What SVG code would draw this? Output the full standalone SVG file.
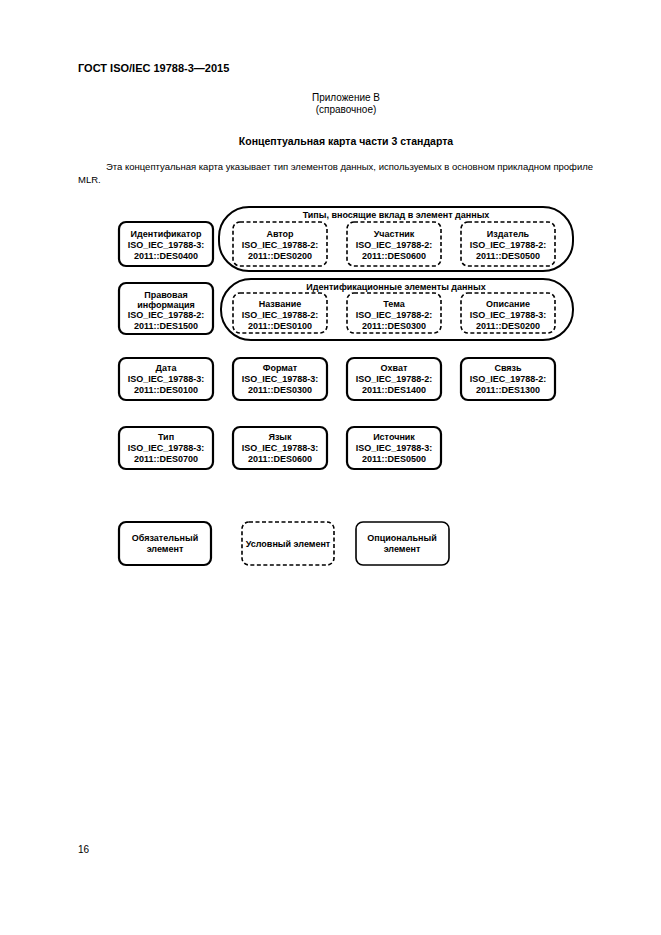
<svg xmlns="http://www.w3.org/2000/svg" width="661" height="935" viewBox="0 0 661 935">
<style>
text{font-family:"Liberation Sans",Arial,sans-serif;fill:#000}
.t{font-size:9px;text-anchor:middle;font-weight:bold}
.s{fill:#fff;stroke:#000;stroke-width:2.2}
.d{fill:#fff;stroke:#000;stroke-width:1.6;stroke-dasharray:4 2.5}
.o{fill:#fff;stroke:#000;stroke-width:1.6}
.p{fill:#fff;stroke:#000;stroke-width:2}
</style>
<rect width="661" height="935" fill="#fff"/>
<text x="78" y="72" font-size="11" font-weight="bold">ГОСТ ISO/IEC 19788-3—2015</text>
<text x="346" y="101" font-size="10" text-anchor="middle">Приложение В</text>
<text x="346" y="113" font-size="10" text-anchor="middle">(справочное)</text>
<text x="346" y="145" font-size="10.5" font-weight="bold" text-anchor="middle">Концептуальная карта части 3 стандарта</text>
<text x="106" y="170" font-size="9.5">Эта концептуальная карта указывает тип элементов данных, используемых в основном прикладном профиле</text>
<text x="78" y="183" font-size="9.5">MLR.</text>
<text x="78" y="853" font-size="10">16</text>
<g id="group1"><rect class="p" x="219" y="207" width="354" height="64" rx="30"/><text class="t" x="396" y="218">Типы, вносящие вклад в элемент данных</text></g>
<g id="group2"><rect class="p" x="221" y="279" width="352" height="61" rx="30"/><text class="t" x="396" y="290">Идентификационные элементы данных</text></g>
<g id="n1"><rect class="s" x="119" y="222" width="94" height="44" rx="7"/><text class="t" x="166" y="237">Идентификатор</text><text class="t" x="166" y="248">ISO_IEC_19788-3:</text><text class="t" x="166" y="259">2011::DES0400</text></g>
<g id="n2"><rect class="d" x="233" y="222" width="94" height="44" rx="7"/><text class="t" x="280" y="237">Автор</text><text class="t" x="280" y="248">ISO_IEC_19788-2:</text><text class="t" x="280" y="259">2011::DES0200</text></g>
<g id="n3"><rect class="d" x="347" y="222" width="94" height="44" rx="7"/><text class="t" x="394" y="237">Участник</text><text class="t" x="394" y="248">ISO_IEC_19788-2:</text><text class="t" x="394" y="259">2011::DES0600</text></g>
<g id="n4"><rect class="d" x="461" y="222" width="94" height="44" rx="7"/><text class="t" x="508" y="237">Издатель</text><text class="t" x="508" y="248">ISO_IEC_19788-2:</text><text class="t" x="508" y="259">2011::DES0500</text></g>
<g id="n5"><rect class="s" x="119" y="283" width="94" height="51" rx="7"/><text class="t" x="166" y="298">Правовая</text><text class="t" x="166" y="308">информация</text><text class="t" x="166" y="318">ISO_IEC_19788-2:</text><text class="t" x="166" y="329">2011::DES1500</text></g>
<g id="n6"><rect class="d" x="233" y="293" width="94" height="40" rx="7"/><text class="t" x="280" y="307">Название</text><text class="t" x="280" y="318">ISO_IEC_19788-2:</text><text class="t" x="280" y="329">2011::DES0100</text></g>
<g id="n7"><rect class="d" x="347" y="293" width="94" height="40" rx="7"/><text class="t" x="394" y="307">Тема</text><text class="t" x="394" y="318">ISO_IEC_19788-2:</text><text class="t" x="394" y="329">2011::DES0300</text></g>
<g id="n8"><rect class="d" x="461" y="293" width="94" height="40" rx="7"/><text class="t" x="508" y="307">Описание</text><text class="t" x="508" y="318">ISO_IEC_19788-3:</text><text class="t" x="508" y="329">2011::DES0200</text></g>
<g id="n9"><rect class="s" x="119" y="358" width="94" height="42" rx="7"/><text class="t" x="166" y="371">Дата</text><text class="t" x="166" y="382">ISO_IEC_19788-3:</text><text class="t" x="166" y="393">2011::DES0100</text></g>
<g id="n10"><rect class="s" x="233" y="358" width="94" height="42" rx="7"/><text class="t" x="280" y="371">Формат</text><text class="t" x="280" y="382">ISO_IEC_19788-3:</text><text class="t" x="280" y="393">2011::DES0300</text></g>
<g id="n11"><rect class="s" x="347" y="358" width="94" height="42" rx="7"/><text class="t" x="394" y="371">Охват</text><text class="t" x="394" y="382">ISO_IEC_19788-2:</text><text class="t" x="394" y="393">2011::DES1400</text></g>
<g id="n12"><rect class="s" x="461" y="358" width="94" height="42" rx="7"/><text class="t" x="508" y="371">Связь</text><text class="t" x="508" y="382">ISO_IEC_19788-2:</text><text class="t" x="508" y="393">2011::DES1300</text></g>
<g id="n13"><rect class="s" x="119" y="427" width="94" height="42" rx="7"/><text class="t" x="166" y="440">Тип</text><text class="t" x="166" y="451">ISO_IEC_19788-3:</text><text class="t" x="166" y="462">2011::DES0700</text></g>
<g id="n14"><rect class="s" x="233" y="427" width="94" height="42" rx="7"/><text class="t" x="280" y="440">Язык</text><text class="t" x="280" y="451">ISO_IEC_19788-3:</text><text class="t" x="280" y="462">2011::DES0600</text></g>
<g id="n15"><rect class="s" x="347" y="427" width="94" height="42" rx="7"/><text class="t" x="394" y="440">Источник</text><text class="t" x="394" y="451">ISO_IEC_19788-3:</text><text class="t" x="394" y="462">2011::DES0500</text></g>
<g id="l1"><rect class="s" x="119" y="522" width="92" height="43" rx="7"/><text class="t" x="165" y="541">Обязательный</text><text class="t" x="165" y="552">элемент</text></g>
<g id="l2"><rect class="d" x="242" y="522" width="92" height="43" rx="7"/><text class="t" x="288" y="547" font-weight="normal">Условный элемент</text></g>
<g id="l3"><rect class="o" x="356" y="522" width="93" height="43" rx="7"/><text class="t" x="402" y="541">Опциональный</text><text class="t" x="402" y="552">элемент</text></g>
<g id="connectors"></g>
</svg>
